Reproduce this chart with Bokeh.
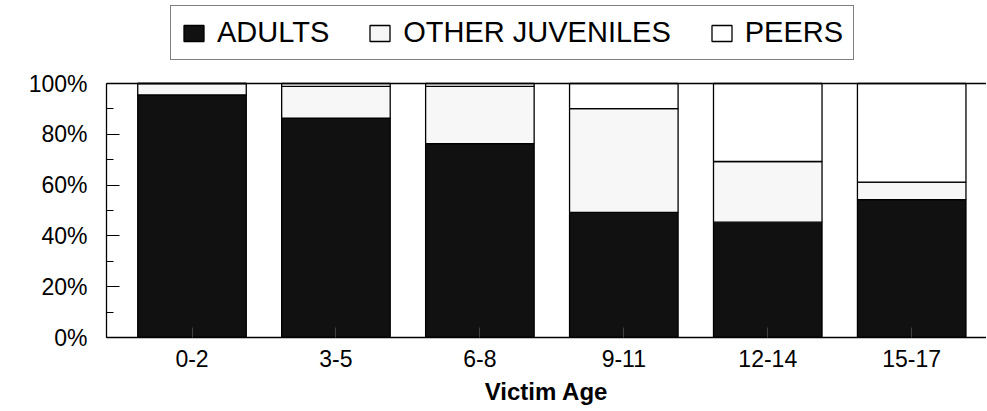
import numpy as np
from bokeh.plotting import figure
from bokeh.models import (ColumnDataSource, Range1d, FixedTicker, Legend, LegendItem, Span)
from bokeh.embed import file_html
from bokeh.resources import INLINE

categories = ["0-2", "3-5", "6-8", "9-11", "12-14", "15-17"]
adults = [95.5, 86.4, 76.3, 49.3, 45.4, 54.3]
other_juveniles = [4.5, 12.5, 22.6, 40.8, 23.9, 6.9]
peers = [0.0, 1.1, 1.1, 9.9, 30.7, 38.8]
y_ticks = [0, 20, 40, 60, 80, 100]
y_tick_labels = ["0%", "20%", "40%", "60%", "80%", "100%"]
series_names = ["ADULTS", "OTHER JUVENILES", "PEERS"]
series_colors = ["#111111", "#f7f7f7", "#ffffff"]

FONT = "Liberation Sans"

x = list(range(len(categories)))
source = ColumnDataSource(dict(x=x, adults=adults, other=other_juveniles, peers=peers))

FRAME_H = 337
p = figure(frame_width=880, frame_height=FRAME_H, output_backend="svg", toolbar_location=None,
           x_range=Range1d(-0.594, -0.594 + 880 / 143.94),
           y_range=Range1d(0, 100 * FRAME_H / 254),
           min_border_left=106, min_border_right=0, min_border_top=0, min_border_bottom=0)
p.outline_line_color = None
p.xgrid.visible = False
p.ygrid.visible = False
p.background_fill_color = "white"

renderers = p.vbar_stack(["adults", "other", "peers"], x="x", width=0.754, source=source,
                         fill_color=series_colors, line_color="black", line_width=1.3)

p.add_layout(Span(location=100, dimension="width", line_color="black", line_width=1.3))

# y axis
ya = p.yaxis[0]
ya.bounds = (0, 100)
ya.ticker = FixedTicker(ticks=y_ticks, minor_ticks=list(range(0, 101, 10)))
ya.major_label_overrides = {t: l for t, l in zip(y_ticks, y_tick_labels)}
ya.major_tick_in = 13
ya.major_tick_out = 0
ya.minor_tick_in = 7
ya.minor_tick_out = 0
ya.major_label_standoff = 19
ya.major_label_text_font = FONT
ya.major_label_text_font_size = "23px"
ya.major_label_text_color = "black"
ya.axis_line_color = "black"
ya.axis_line_width = 1.3
ya.major_tick_line_color = "black"
ya.minor_tick_line_color = "black"

# x axis
xa = p.xaxis[0]
xa.ticker = FixedTicker(ticks=x)
xa.major_label_overrides = {i: c for i, c in zip(x, categories)}
xa.major_tick_in = 10
xa.major_tick_out = 0
xa.minor_tick_in = 0
xa.minor_tick_out = 0
xa.major_tick_line_color = "#444444"
xa.major_label_standoff = 12
xa.major_label_text_font = FONT
xa.major_label_text_font_size = "23px"
xa.major_label_text_color = "black"
xa.axis_line_color = "black"
xa.axis_line_width = 1.3
xa.axis_label = "Victim Age"
xa.axis_label_text_font = FONT
xa.axis_label_text_font_size = "24px"
xa.axis_label_text_font_style = "bold"
xa.axis_label_text_color = "black"
xa.axis_label_standoff = 8

legend = Legend(items=[LegendItem(label=n, renderers=[r]) for n, r in zip(series_names, renderers)],
                orientation="horizontal", location=(64, 277),
                glyph_width=25, glyph_height=20, label_standoff=11, spacing=38, padding=10,
                label_text_font=FONT, label_text_font_size="29px", label_text_color="black",
                border_line_color="black", border_line_width=1.3,
                background_fill_color="white", background_fill_alpha=1.0, margin=0)
p.add_layout(legend, "center")

open("out.html", "w").write(file_html(p, INLINE))
